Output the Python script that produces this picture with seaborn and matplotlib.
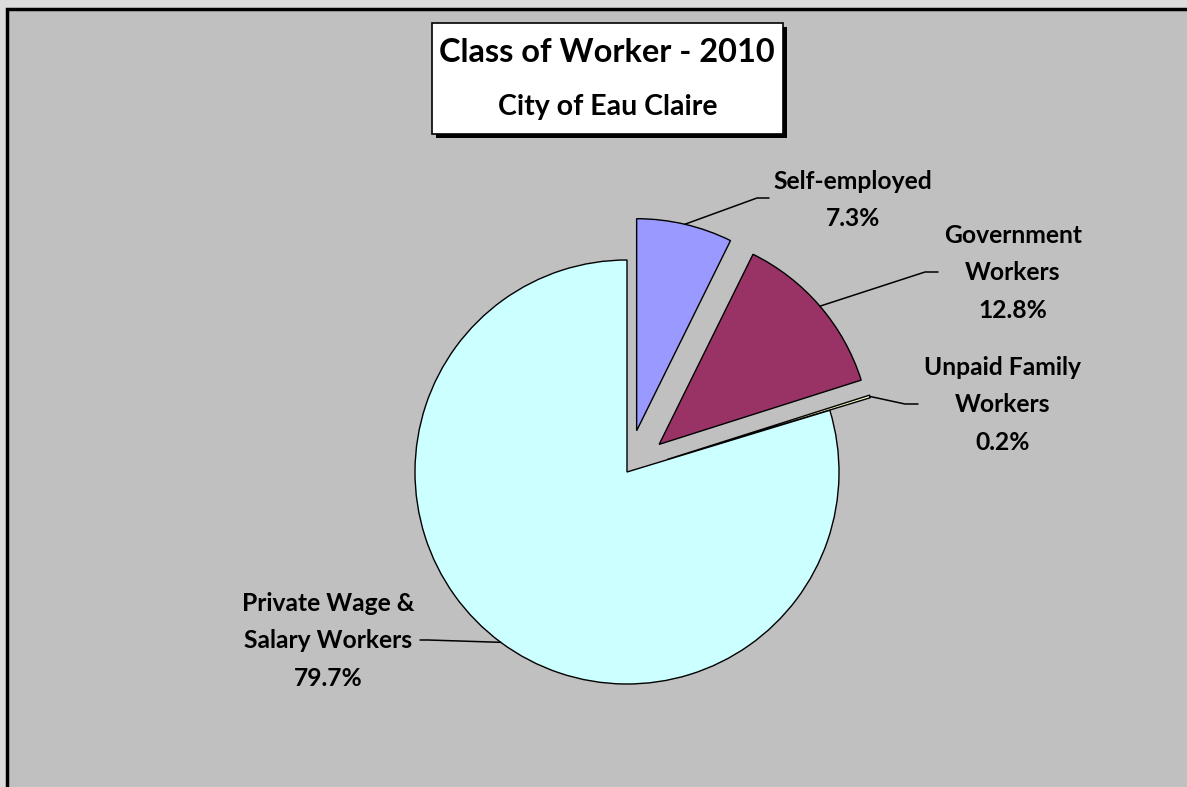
import matplotlib
matplotlib.use("Agg")
import matplotlib.pyplot as plt
import matplotlib.patches as mpatches
import numpy as np
import seaborn as sns

# data
categories = ["Self-employed", "Government\nWorkers", "Unpaid Family\nWorkers", "Private Wage &\nSalary Workers"]
shares = [7.3, 12.8, 0.2, 79.7]
colors = ["#9999FF", "#993366", "#FFFFCC", "#CCFFFF"]
explode = [0.2, 0.2, 0.2, 0.0]

sns.set_theme(style="white")
plt.rcParams["font.family"] = ["Lato", "DejaVu Sans"]
plt.rcParams["text.color"] = "black"

W, H = 1187, 787
R = 212
fig = plt.figure(figsize=(W / 100, H / 100), dpi=100, facecolor="#dcdcdc")
ax = fig.add_axes([0, 0, 1, 1])

def py(y):
    # pixel row -> data y
    return H - y

# chart area with thick border on left/top
ax.add_patch(mpatches.Rectangle((7, -20), W + 20, py(9) + 20, facecolor="#C0C0C0",
                                edgecolor="black", linewidth=2.5, zorder=0))

wedges, _ = ax.pie(shares, colors=colors, explode=[e * R for e in explode], startangle=90,
                   counterclock=False, radius=R, center=(627, py(472)),
                   wedgeprops=dict(edgecolor="black", linewidth=1))

# labels: text centre, elbow, end of leader
label_pos = [(853, 200), (1013, 273), (1003, 405), (328, 641)]
leader = [((757, 198), (769, 198)), ((925, 272), (938, 272)),
          ((905, 404), (918, 404)), ((428, 640), (420, 640))]

for w, cat, val, (tx, ty), (p1, p2) in zip(wedges, categories, shares, label_pos, leader):
    mid = np.deg2rad((w.theta1 + w.theta2) / 2)
    sx = w.center[0] + w.r * np.cos(mid)
    sy = w.center[1] + w.r * np.sin(mid)
    ax.plot([sx, p1[0], p2[0]], [sy, py(p1[1]), py(p2[1])], color="black", lw=1.1, zorder=3)
    ax.text(tx, py(ty), f"{cat}\n{val:.1f}%", ha="center", va="center", fontsize=17.7,
            fontweight="bold", linespacing=1.75, color="black")

# title box with shadow
ax.add_patch(mpatches.Rectangle((436, py(138)), 351, 111, facecolor="black", edgecolor="none", zorder=4))
ax.add_patch(mpatches.Rectangle((432, py(134)), 351, 111, facecolor="white", edgecolor="black",
                                linewidth=1.2, zorder=5))
ax.text(607, py(53), "Class of Worker - 2010", ha="center", va="center", fontsize=23.4,
        fontweight="bold", color="black", zorder=6)
ax.text(608, py(107), "City of Eau Claire", ha="center", va="center", fontsize=20.5,
        fontweight="bold", color="black", zorder=6)

ax.set_xlim(0, W)
ax.set_ylim(0, H)
ax.axis("off")

fig.savefig("out.png", dpi=100, facecolor=fig.get_facecolor())
